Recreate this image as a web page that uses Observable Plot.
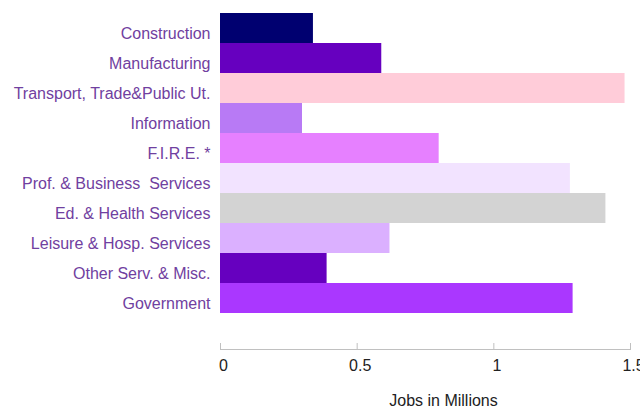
<!DOCTYPE html>
<html>
<head>
<meta charset="utf-8">
<script src="https://cdn.jsdelivr.net/npm/d3@7"></script>
<script src="https://cdn.jsdelivr.net/npm/@observablehq/plot@0.6"></script>
<style>
  html, body { margin: 0; padding: 0; background: #fff; }
  svg { display: block; }
</style>
</head>
<body>
<div id="chart"></div>
<script>
const sectors = [
  "Construction", "Manufacturing", "Transport, Trade&Public Ut.", "Information",
  "F.I.R.E. *", "Prof. & Business  Services", "Ed. & Health Services",
  "Leisure & Hosp. Services", "Other Serv. & Misc.", "Government"
];
const jobs = [0.34, 0.59, 1.48, 0.30, 0.80, 1.28, 1.41, 0.62, 0.39, 1.29];
const colors = [
  "#000070", "#6600bf", "#ffccd9", "#b87af5", "#e680ff",
  "#f2e3ff", "#d3d3d3", "#dbb0ff", "#6600bf", "#aa37ff"
];
const xTicks = [0, 0.5, 1, 1.5];
const xLabel = "Jobs in Millions";

const data = sectors.map((s, i) => ({sector: s, value: jobs[i], color: colors[i]}));

const chart = Plot.plot({
  width: 640,
  height: 410,
  marginLeft: 220,
  marginRight: 10,
  marginTop: 10,
  marginBottom: 61,
  style: {fontFamily: "Liberation Sans, Arial, sans-serif", fontSize: "16px", background: "#fff"},
  x: {domain: [0, 1.5]},
  y: {domain: sectors, range: [10, 315], padding: 0},
  marks: [
    Plot.barX(data, {x: "value", y: "sector", fill: "color"}),
    Plot.frame({anchor: "bottom", stroke: "#c0c0c0"}),
    Plot.tickX(xTicks, {x: d => d, stroke: "#c0c0c0", insetTop: 333}),
    Plot.axisX(xTicks, {tickSize: 0, tickPadding: 10, fontSize: 16, fill: "#222", label: null, tickFormat: d => String(d), dx: 3}),
    Plot.axisY({tickSize: 0, tickPadding: 10, fontSize: 16, fill: "#7040a0", label: null, dy: 5}),
    Plot.text([xLabel], {frameAnchor: "bottom", dx: 18, dy: 51, fontSize: 16, fill: "#222", lineAnchor: "middle"})
  ]
});
document.getElementById("chart").appendChild(chart);
</script>
</body>
</html>
